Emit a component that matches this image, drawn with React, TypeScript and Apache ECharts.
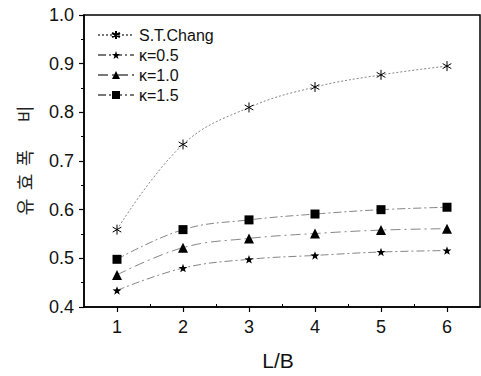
import React, { useEffect, useRef } from "react";
import * as echarts from "echarts";

const xValues = [1, 2, 3, 4, 5, 6];
const stChang = [0.559, 0.734, 0.81, 0.852, 0.877, 0.895];
const kappa05 = [0.434, 0.48, 0.498, 0.506, 0.513, 0.516];
const kappa10 = [0.466, 0.522, 0.541, 0.551, 0.558, 0.561];
const kappa15 = [0.498, 0.559, 0.579, 0.591, 0.6, 0.605];
const seriesNames = ["S.T.Chang", "κ=0.5", "κ=1.0", "κ=1.5"];
const xTickLabels = [1, 2, 3, 4, 5, 6];
const xMinorTicks = [1.5, 2.5, 3.5, 4.5, 5.5];
const yAxisTitleChars = ["유", "효", "폭", "비"];

const STAR = "path://M0,-10 L2.35,-3.24 L9.51,-3.09 L3.8,1.24 L5.88,8.09 L0,4 L-5.88,8.09 L-3.8,1.24 L-9.51,-3.09 L-2.35,-3.24 Z";
const ASTER = "path://M0,-10 L0,10 M-8.66,-5 L8.66,5 M-8.66,5 L8.66,-5 M0,-10 L0.01,-10";

const FONT = "'Liberation Sans', Arial, sans-serif";
const TITLE_Y = [207, 182, 158, 114];

export default function App() {
  const ref = useRef<HTMLDivElement>(null);
  useEffect(() => {
    if (!ref.current) return;
    const chart = echarts.init(ref.current, null, { renderer: "svg" });
    const mk = (vals: number[]) => xValues.map((x, i) => [x, vals[i]]);
    const lineColor = "#777";
    const option: any = {
      animation: false,
      backgroundColor: "#fff",
      grid: {
        left: 84,
        top: 15,
        right: 1,
        bottom: 69,
        show: true,
        borderColor: "#000",
        borderWidth: 1.5,
        backgroundColor: "transparent",
      },
      legend: {
        orient: "vertical",
        left: 92,
        top: 22,
        itemWidth: 36,
        itemHeight: 10,
        itemGap: 4,
        textStyle: { fontFamily: FONT, fontSize: 16, color: "#111" },
        data: seriesNames,
      },
      xAxis: [
        {
          type: "value",
          min: 0.5,
          max: 6.5,
          splitLine: { show: false },
          axisLine: { lineStyle: { color: "#000", width: 1.5 } },
          axisTick: {
            show: true,
            length: 5,
            customValues: xTickLabels,
            lineStyle: { color: "#000", width: 1.2 },
          },
          axisLabel: {
            customValues: xTickLabels,
            margin: 11,
            fontFamily: FONT,
            fontSize: 18,
            color: "#111",
          },
        },
        {
          type: "value",
          min: 0.5,
          max: 6.5,
          position: "bottom",
          splitLine: { show: false },
          axisLine: { show: false },
          axisTick: {
            show: true,
            inside: true,
            length: 3,
            customValues: xMinorTicks,
            lineStyle: { color: "#000", width: 1 },
          },
          axisLabel: { show: false },
        },
      ],
      yAxis: {
        type: "value",
        min: 0.4,
        max: 1.0,
        interval: 0.1,
        splitLine: { show: false },
        axisLine: { show: true, lineStyle: { color: "#000", width: 1.5 } },
        axisTick: { show: true, length: 5, lineStyle: { color: "#000", width: 1.2 } },
        minorTick: { show: true, splitNumber: 2, length: 3, lineStyle: { color: "#000" } },
        axisLabel: {
          margin: 10,
          fontFamily: FONT,
          fontSize: 18,
          color: "#111",
          formatter: (v: number) => v.toFixed(1),
        },
      },
      graphic: [
        ...yAxisTitleChars.map((ch, i) => ({
          type: "text",
          x: 24,
          y: TITLE_Y[i],
          rotation: Math.PI / 2,
          style: {
            text: ch,
            font: "18px 'Noto Sans CJK KR'",
            fill: "#222",
            align: "center",
            verticalAlign: "middle",
          },
        })),
        {
          type: "text",
          x: 278,
          y: 360,
          style: {
            text: "L/B",
            font: "21px 'Liberation Sans', Arial, sans-serif",
            fill: "#111",
            align: "center",
            verticalAlign: "middle",
          },
        },
      ],
      series: [
        {
          name: seriesNames[0],
          type: "line",
          smooth: 0.4,
          data: mk(stChang),
          symbol: ASTER,
          symbolSize: 10,
          symbolKeepAspect: true,
          itemStyle: { color: "#000", borderColor: "#000", borderWidth: 1 },
          lineStyle: { color: lineColor, width: 0.9, type: [2, 2] },
        },
        {
          name: seriesNames[1],
          type: "line",
          smooth: 0.4,
          data: mk(kappa05),
          symbol: STAR,
          symbolSize: 9,
          symbolKeepAspect: true,
          itemStyle: { color: "#000" },
          lineStyle: { color: lineColor, width: 0.9, type: [8, 3, 2, 3] },
        },
        {
          name: seriesNames[2],
          type: "line",
          smooth: 0.4,
          data: mk(kappa10),
          symbol: "triangle",
          symbolSize: 10,
          itemStyle: { color: "#000" },
          lineStyle: { color: lineColor, width: 0.9, type: [10, 4, 2, 4] },
        },
        {
          name: seriesNames[3],
          type: "line",
          smooth: 0.4,
          data: mk(kappa15),
          symbol: "rect",
          symbolSize: 9,
          itemStyle: { color: "#000" },
          lineStyle: { color: lineColor, width: 0.9, type: [8, 3, 2, 3] },
        },
      ],
    };
    chart.setOption(option);
    return () => chart.dispose();
  }, []);
  return <div ref={ref} style={{ width: 481, height: 376, position: "absolute", left: 0, top: 0 }} />;
}
